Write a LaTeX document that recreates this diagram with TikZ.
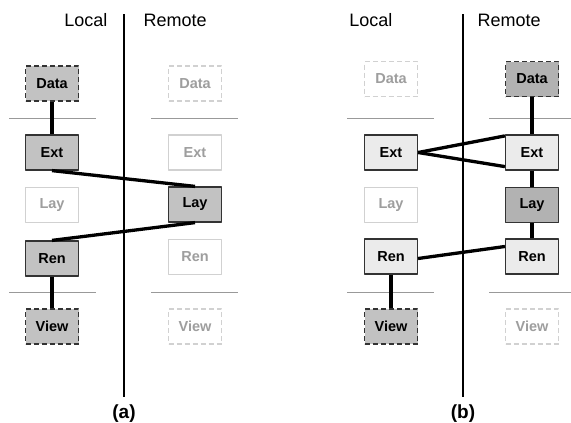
\documentclass[tikz,border=0pt]{standalone}
\usepackage{fontspec}
\setmainfont{Liberation Sans}
\usetikzlibrary{positioning}
\definecolor{boxgray}{gray}{0.76}
\definecolor{boxlight}{gray}{0.92}
\definecolor{fadeline}{gray}{0.82}
\definecolor{fadetext}{gray}{0.62}
\definecolor{sepgray}{gray}{0.6}

\begin{document}
\begin{tikzpicture}[x=1pt,y=-1pt,line join=round,
	stage/.style={draw=black!80, line width=1.2pt, minimum width=53pt, minimum height=35pt,
		inner sep=0pt, font=\bfseries\fontsize{14.5}{16}\selectfont},
	active/.style={stage, fill=boxgray},
	lightbox/.style={stage, fill=boxlight},
	ghost/.style={stage, draw=fadeline, text=fadetext, fill=white},
	ends/.style={dash pattern=on 5pt off 3pt},
	link/.style={line width=3.3pt},
	divider/.style={line width=1.8pt},
	sep/.style={draw=sepgray, line width=0.8pt},
	side/.style={font=\fontsize{18}{20}\selectfont},
	caption/.style={font=\bfseries\fontsize{19}{21}\selectfont}]
	\useasboundingbox (0,0) rectangle (571,423);

	% (a)
	\begin{scope}
	\draw[divider] (124,14) -- (124,397);
	\node[side, anchor=base east] (locala) at (111,27) {Local};
	\node[side, anchor=base west] (remotea) at (140,27) {Remote};
	\foreach \y in {118, 292} {
		\draw[sep] (9,\y) -- (96,\y);
		\draw[sep] (151,\y) -- (238,\y);
	}
	\node[active, ends] (dataLa) at (52,83.5) {Data};
	\node[active] (extLa) at (52,152.5) {Ext};
	\node[ghost] (layLa) at (52,205) {Lay};
	\node[active] (renLa) at (52,258.5) {Ren};
	\node[active, ends] (viewLa) at (52,326.5) {View};

	\node[ghost, ends] (dataRa) at (195,83.5) {Data};
	\node[ghost] (extRa) at (195,152.5) {Ext};
	\node[active] (layRa) at (195,204.5) {Lay};
	\node[ghost] (renRa) at (195,257) {Ren};
	\node[ghost, ends] (viewRa) at (195,326.5) {View};

	\draw[link] (dataLa) -- (extLa);
	\draw[link] (extLa.south) -- (layRa.north);
	\draw[link] (layRa.south) -- (renLa.north);
	\draw[link] (renLa) -- (viewLa);
	\node[caption] (capa) at (124,414) {(a)};
	\end{scope}

	% (b)
	\begin{scope}
	\draw[divider] (463,14) -- (463,397);
	\node[side, anchor=base east] (localb) at (396,27) {Local};
	\node[side, anchor=base west] (remoteb) at (474,27) {Remote};
	\foreach \y in {118, 292} {
		\draw[sep] (347,\y) -- (434,\y);
		\draw[sep] (489,\y) -- (576,\y);
	}
	\node[ghost, ends] (dataLb) at (391,79) {Data};
	\node[lightbox] (extLb) at (391,152.5) {Ext};
	\node[ghost] (layLb) at (391,205) {Lay};
	\node[lightbox] (renLb) at (391,256.5) {Ren};
	\node[active, ends] (viewLb) at (391,326.5) {View};

	\node[active, ends, fill=black!30] (dataRb) at (532,79) {Data};
	\node[lightbox] (extRb) at (532,152.5) {Ext};
	\node[active, fill=black!30] (layRb) at (532,205) {Lay};
	\node[lightbox] (renRb) at (532,256.5) {Ren};
	\node[ghost, ends] (viewRb) at (532,326.5) {View};

	\draw[link] (dataRb) -- (extRb);
	\draw[link] (extLb.east) -- ([yshift=-1.5pt]extRb.north west);
	\draw[link] (extLb.east) -- ([yshift=4pt]extRb.south west);
	\draw[link] (extRb) -- (layRb);
	\draw[link] (layRb) -- (renRb);
	\draw[link] ([yshift=10pt]renRb.west) -- ([yshift=-2pt]renLb.east);
	\draw[link] (renLb) -- (viewLb);
	\node[caption] (capb) at (463,414) {(b)};
	\end{scope}
\end{tikzpicture}
\end{document}
